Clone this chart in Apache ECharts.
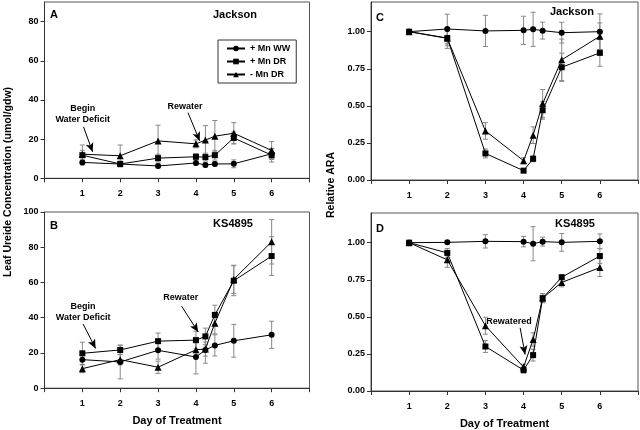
<!DOCTYPE html>
<html>
<head>
<meta charset="utf-8">
<script src="https://cdn.jsdelivr.net/npm/echarts@6/dist/echarts.min.js"></script>
<style>html,body{margin:0;padding:0;background:#fff}#c{width:640px;height:430px}</style>
</head>
<body>
<div id="c"></div>
<script>
// ---- data ----
const days = [1, 2, 3, 4, 4.25, 4.5, 5, 6];
const seriesNames = ['+ Mn WW', '+ Mn DR', '- Mn DR'];
const xTicks = [0, 1, 2, 3, 4, 5, 6, 7];
const xLabels = [1, 2, 3, 4, 5, 6];
const ureideTicksA = [0, 20, 40, 60, 80];
const ureideTicksB = [0, 20, 40, 60, 80, 100];
const araTicks = [0, 0.25, 0.5, 0.75, 1.0];

// Panel A: Jackson, leaf ureide
const A_WW = [8.1, 7.3, 6.3, 7.8, 6.8, 7.3, 7.4, 12.5];
const A_WW_err = [1.2, 1.0, 1.0, 1.0, 1.0, 1.0, 2.0, 2.5];
const A_DRp = [11.8, 7.3, 10.3, 11.0, 10.8, 11.8, 20.6, 11.8];
const A_DRp_err = [2.5, 1.5, 2.0, 1.5, 2.0, 2.5, 3.0, 3.5];
const A_DRm = [12.3, 11.5, 19.1, 17.6, 19.5, 21.5, 23.0, 14.2];
const A_DRm_err = [4.7, 5.5, 8.0, 2.0, 7.4, 8.0, 5.4, 4.6];

// Panel B: KS4895, leaf ureide
const B_WW = [16.2, 14.9, 21.5, 17.7, 21.7, 24.3, 26.9, 30.3];
const B_WW_err = [3.0, 9.6, 5.0, 9.6, 7.5, 6.0, 9.3, 7.7];
const B_DRp = [19.8, 21.7, 26.7, 27.3, 29.4, 41.6, 61.0, 75.0];
const B_DRp_err = [6.3, 2.6, 4.6, 5.0, 4.7, 5.5, 8.5, 11.0];
const B_DRm = [11.1, 16.2, 11.9, 21.8, 22.2, 36.9, 61.8, 83.1];
const B_DRm_err = [2.3, 3.0, 3.5, 4.0, 4.0, 6.0, 8.0, 12.6];

// Panel C: Jackson, relative ARA
const C_WW = [1.0, 1.018, 1.005, 1.009, 1.016, 1.007, 0.993, 1.0];
const C_WW_err = [0, 0.10, 0.105, 0.095, 0.115, 0.057, 0.07, 0.12];
const C_DRp = [1.0, 0.957, 0.179, 0.063, 0.143, 0.47, 0.76, 0.857];
const C_DRp_err = [0, 0.07, 0.03, 0.01, 0.02, 0.06, 0.095, 0.09];
const C_DRm = [1.0, 0.955, 0.331, 0.13, 0.302, 0.515, 0.81, 0.969];
const C_DRm_err = [0, 0.05, 0.056, 0.02, 0.056, 0.095, 0.14, 0.09];

// Panel D: KS4895, relative ARA
const D_WW = [1.0, 1.002, 1.009, 1.007, 0.993, 1.007, 1.002, 1.009];
const D_WW_err = [0, 0.01, 0.045, 0.035, 0.115, 0.03, 0.06, 0.05];
const D_DRp = [1.0, 0.931, 0.30, 0.141, 0.242, 0.626, 0.767, 0.91];
const D_DRp_err = [0, 0.03, 0.04, 0.02, 0.04, 0.03, 0.015, 0.05];
const D_DRm = [1.0, 0.884, 0.44, 0.161, 0.347, 0.626, 0.732, 0.832];
const D_DRm_err = [0, 0.05, 0.057, 0.02, 0.045, 0.03, 0.03, 0.06];

// annotations (data coordinates)
const annA = [{t: 'Begin', x: 1.01, y: 35.5}, {t: 'Water Deficit', x: 1.01, y: 30.2}, {t: 'Rewater', x: 3.71, y: 36.7}];
const arrowsA = [[[1.03, 26.3], [1.27, 13.5]], [[3.79, 33.5], [4.10, 19.1]]];
const annB = [{t: 'Begin', x: 1.02, y: 46.2}, {t: 'Water Deficit', x: 1.02, y: 39.9}, {t: 'Rewater', x: 3.60, y: 51.3}];
const arrowsB = [[[1.02, 36.4], [1.35, 22.6]], [[3.62, 46.6], [4.06, 31.9]]];
const annD = [{t: 'Rewatered', x: 3.62, y: 0.468}];
const arrowsD = [[[3.91, 0.426], [4.04, 0.246]]];

// ---- chart ----
const FONT = 'Liberation Sans, Arial, sans-serif';
const symbols = ['circle', 'rect', 'triangle'];
const grids = [
  {left: 44.5, top: 2, width: 265, height: 176.3},
  {left: 44.5, top: 212, width: 265, height: 176.2},
  {left: 371, top: 2, width: 267, height: 178},
  {left: 371, top: 213, width: 267, height: 178.7}
];
const panels = [
  {vals: [A_WW, A_DRp, A_DRm], errs: [A_WW_err, A_DRp_err, A_DRm_err], max: 90, ticks: ureideTicksA, fmt: v => String(v), ann: annA, arrows: arrowsA},
  {vals: [B_WW, B_DRp, B_DRm], errs: [B_WW_err, B_DRp_err, B_DRm_err], max: 100, ticks: ureideTicksB, fmt: v => String(v), ann: annB, arrows: arrowsB, xname: true},
  {vals: [C_WW, C_DRp, C_DRm], errs: [C_WW_err, C_DRp_err, C_DRm_err], max: 1.2, ticks: araTicks, fmt: v => v.toFixed(2)},
  {vals: [D_WW, D_DRp, D_DRm], errs: [D_WW_err, D_DRp_err, D_DRm_err], max: 1.2, ticks: araTicks, fmt: v => v.toFixed(2), ann: annD, arrows: arrowsD, xname: true}
];

const xAxes = [], yAxes = [], series = [];
panels.forEach((p, gi) => {
  xAxes.push({
    type: 'value', gridIndex: gi, min: 0, max: 7, interval: 1,
    name: p.xname ? 'Day of Treatment' : '', nameLocation: 'middle', nameGap: 27,
    nameTextStyle: {fontFamily: FONT, fontWeight: 'bold', fontSize: 11, color: '#000'},
    axisLine: {lineStyle: {color: '#333', width: 1}},
    axisTick: {length: 4, lineStyle: {color: '#333'}, customValues: xTicks},
    axisLabel: {margin: 11, fontFamily: FONT, fontWeight: 'bold', fontSize: 9, color: '#000',
      customValues: xLabels, formatter: v => (v >= 1 && v <= 6 ? String(v) : '')},
    splitLine: {show: false}
  });
  const labels = p.ticks;
  yAxes.push({
    type: 'value', gridIndex: gi, min: 0, max: p.max,
    axisLine: {show: true, lineStyle: {color: '#333', width: 1}},
    axisTick: {show: true, length: 4, lineStyle: {color: '#333'}, customValues: labels},
    axisLabel: {margin: 6, fontFamily: FONT, fontWeight: 'bold', fontSize: 9, color: '#000',
      customValues: labels, formatter: v => (labels.some(t => Math.abs(t - v) < 1e-9) ? p.fmt(v) : '')},
    splitLine: {show: false}
  });
  // error bars
  p.vals.forEach((vals, si) => {
    const errs = p.errs[si];
    series.push({
      type: 'custom', xAxisIndex: gi, yAxisIndex: gi, z: 1, silent: true,
      data: days.map((d, i) => [d, vals[i], errs[i]]),
      renderItem: (params, api) => {
        const x = api.value(0), y = api.value(1), e = api.value(2);
        if (!e) return null;
        const t = api.coord([x, y + e]), b = api.coord([x, y - e]);
        const c = 2.5;
        const st = {stroke: '#888', lineWidth: 1};
        return {type: 'group', children: [
          {type: 'line', shape: {x1: t[0], y1: t[1], x2: b[0], y2: b[1]}, style: st},
          {type: 'line', shape: {x1: t[0] - c, y1: t[1], x2: t[0] + c, y2: t[1]}, style: st},
          {type: 'line', shape: {x1: b[0] - c, y1: b[1], x2: b[0] + c, y2: b[1]}, style: st}
        ]};
      }
    });
  });
  // lines
  p.vals.forEach((vals, si) => {
    const s = {
      type: 'line', name: seriesNames[si], xAxisIndex: gi, yAxisIndex: gi, z: 3,
      data: days.map((d, i) => [d, vals[i]]),
      symbol: symbols[si], symbolSize: si === 2 ? 7 : 6, showSymbol: true,
      lineStyle: {color: '#000', width: 1},
      itemStyle: {color: '#000', borderWidth: 0},
      emphasis: {disabled: true}, animation: false
    };
    if (si === 0) {
      if (p.ann) {
        s.markPoint = {
          symbol: 'circle', symbolSize: 1, itemStyle: {color: 'rgba(0,0,0,0)'}, animation: false,
          label: {show: true, position: 'inside', fontFamily: FONT, fontWeight: 'bold', fontSize: 9, color: '#000',
            formatter: prm => prm.name},
          data: p.ann.map(a => ({name: a.t, coord: [a.x, a.y]}))
        };
      }
      if (p.arrows) {
        s.markLine = {
          symbol: ['none', 'arrow'], symbolSize: [6, 9], silent: true, animation: false,
          lineStyle: {color: '#000', width: 1, type: 'solid'},
          label: {show: false},
          data: p.arrows.map(ar => [{coord: ar[0]}, {coord: ar[1]}])
        };
      }
    }
    series.push(s);
  });
});

const txt = (text, x, y, size, extra) => Object.assign({
  type: 'text', x: x, y: y,
  style: {text: text, fontFamily: FONT, fontWeight: 'bold', fontSize: size, fill: '#000', align: 'center', verticalAlign: 'middle'}
}, extra || {});

const chart = echarts.init(document.getElementById('c'), null, {renderer: 'canvas'});
chart.setOption({
  animation: false,
  backgroundColor: '#fff',
  grid: grids.map(g => Object.assign({show: true, borderColor: '#555', borderWidth: 1, containLabel: false}, g)),
  xAxis: xAxes,
  yAxis: yAxes,
  legend: {
    data: seriesNames, orient: 'vertical', left: 218, top: 40,
    itemWidth: 18, itemHeight: 7, itemGap: 4,
    padding: [4, 6, 4, 8], borderColor: '#333', borderWidth: 1, backgroundColor: '#fff',
    selectedMode: false,
    textStyle: {fontFamily: FONT, fontWeight: 'bold', fontSize: 9, color: '#000'}
  },
  series: series,
  graphic: [
    txt('A', 54, 15, 11),
    txt('Jackson', 235, 15, 11),
    txt('B', 54, 226, 11),
    txt('KS4895', 233, 224, 11),
    txt('C', 380, 18, 11),
    txt('Jackson', 572, 12, 11),
    txt('D', 380, 229, 11),
    txt('KS4895', 575, 224, 11),
    txt('Leaf Ureide Concentration (umol/gdw)', 8, 182, 10.5, {rotation: Math.PI / 2}),
    txt('Relative ARA', 331, 185, 10.5, {rotation: Math.PI / 2})
  ]
});
</script>
</body>
</html>
